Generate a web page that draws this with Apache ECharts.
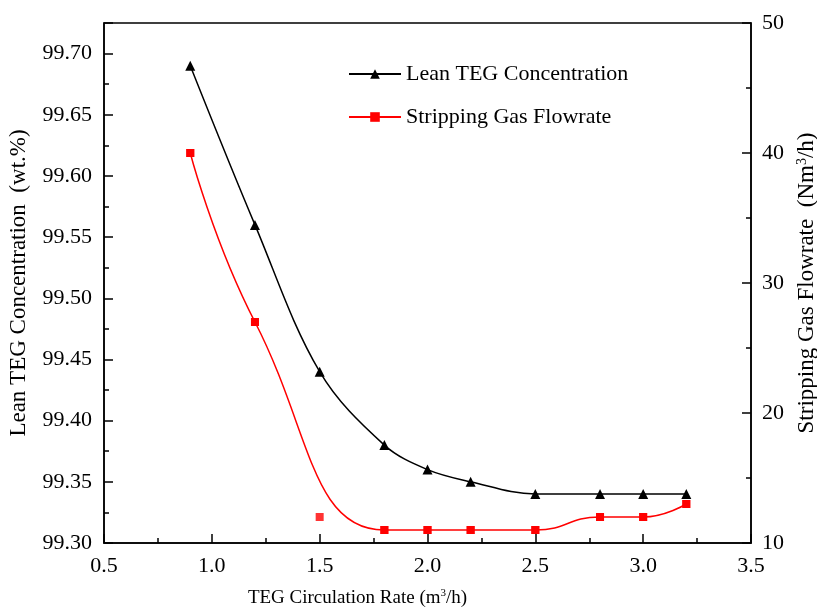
<!DOCTYPE html>
<html>
<head>
<meta charset="utf-8">
<script src="https://cdn.jsdelivr.net/npm/echarts@6/dist/echarts.min.js"></script>
<style>
  html, body { margin: 0; background: #fff; }
  #chart { width: 817px; height: 610px; }
</style>
</head>
<body>
<div id="chart"></div>
<script>
// TEG circulation rate (m3/h)
var rates = [0.9, 1.2, 1.5, 1.8, 2.0, 2.2, 2.5, 2.8, 3.0, 3.2];
// lean TEG concentration (wt.%)
var leanTeg = [99.69, 99.56, 99.44, 99.38, 99.36, 99.35, 99.34, 99.34, 99.34, 99.34];
// stripping gas flowrate (Nm3/h)
var gasFlow = [40, 27, 12, 11, 11, 11, 11, 12, 12, 13];
// rate whose flowrate point the fitted red curve leaves out
var gasFitSkip = [1.5];

var seriesNames = ['Lean TEG Concentration', 'Stripping Gas Flowrate'];

var font = "'Liberation Serif', 'Times New Roman', serif";

function pairs(xs, ys) {
  return xs.map(function (x, i) { return [x, ys[i]]; });
}

var gasFit = pairs(rates, gasFlow).filter(function (p) {
  return gasFitSkip.indexOf(p[0]) < 0;
});

function richName(size) {
  return {
    a: { fontFamily: font, fontSize: size, color: '#000', lineHeight: size + 2 },
    s: { fontFamily: font, fontSize: Math.round(size * 0.6), color: '#000', verticalAlign: 'top', lineHeight: size + 2 }
  };
}

var axisCommon = {
  axisLine: { show: true, lineStyle: { color: '#000', width: 1.5 } },
  axisTick: { show: true, inside: true, length: 9, lineStyle: { color: '#000', width: 1.5 } },
  minorTick: { show: true, splitNumber: 2, length: 5, lineStyle: { color: '#000', width: 1.5 } },
  splitLine: { show: false },
  minorSplitLine: { show: false }
};

var chart = echarts.init(document.getElementById('chart'));
chart.setOption({
  animation: false,
  backgroundColor: '#fff',
  textStyle: { fontFamily: font },
  grid: {
    left: 104, right: 66, top: 23, bottom: 67,
    outerBoundsMode: 'none',
    containLabel: false,
    show: true, borderColor: '#000', borderWidth: 1.5, backgroundColor: 'transparent'
  },
  legend: {
    orient: 'vertical',
    left: 343,
    top: 58,
    itemWidth: 52,
    itemHeight: 12,
    itemGap: 21,
    textStyle: { fontFamily: font, fontSize: 22, color: '#000' },
    data: seriesNames
  },
  xAxis: Object.assign({}, axisCommon, {
    type: 'value',
    min: 0.5, max: 3.5, interval: 0.5,
    axisLabel: {
      margin: 12, fontFamily: font, fontSize: 22, color: '#000',
      formatter: function (v) { return v.toFixed(1); }
    },
    name: '{a|TEG Circulation Rate (m}{s|3}{a|/h)}',
    nameLocation: 'middle',
    nameGap: 45,
    nameTextStyle: { rich: richName(19), padding: [0, 140, 0, 0] }
  }),
  yAxis: [
    Object.assign({}, axisCommon, {
      type: 'value',
      position: 'left',
      min: 99.3, max: 99.725, interval: 0.05,
      axisLabel: {
        margin: 12, fontFamily: font, fontSize: 22, color: '#000',
        formatter: function (v) { return v > 99.71 ? '' : v.toFixed(2); }
      },
      name: 'Lean TEG Concentration  (wt.%)',
      nameLocation: 'middle',
      nameGap: 74,
      nameTextStyle: { fontFamily: font, fontSize: 23, color: '#000' }
    }),
    Object.assign({}, axisCommon, {
      type: 'value',
      position: 'right',
      min: 10, max: 50, interval: 10,
      axisLabel: {
        margin: 11, fontFamily: font, fontSize: 22, color: '#000',
        formatter: function (v) { return String(v); }
      },
      name: '{a|Stripping Gas Flowrate  (Nm}{s|3}{a|/h)}',
      nameLocation: 'middle',
      nameGap: 43,
      nameRotate: 90,
      nameTextStyle: { rich: richName(23) }
    })
  ],
  series: [
    {
      name: seriesNames[0],
      type: 'line',
      yAxisIndex: 0,
      smooth: 0.35,
      symbol: 'triangle',
      symbolSize: 10,
      color: '#000',
      lineStyle: { color: '#000', width: 1.5 },
      itemStyle: { color: '#000' },
      data: pairs(rates, leanTeg)
    },
    {
      // fitted curve
      name: seriesNames[1],
      type: 'line',
      yAxisIndex: 1,
      smooth: 0.5,
      symbol: 'rect',
      symbolSize: 8,
      color: '#ff0000',
      lineStyle: { color: '#ff0000', width: 1.5 },
      itemStyle: { color: '#ff0000' },
      data: gasFit
    },
    {
      // all measured points
      type: 'scatter',
      yAxisIndex: 1,
      symbol: 'rect',
      symbolSize: 8,
      itemStyle: { color: '#ff0000' },
      data: pairs(rates, gasFlow)
    }
  ]
});
</script>
</body>
</html>
